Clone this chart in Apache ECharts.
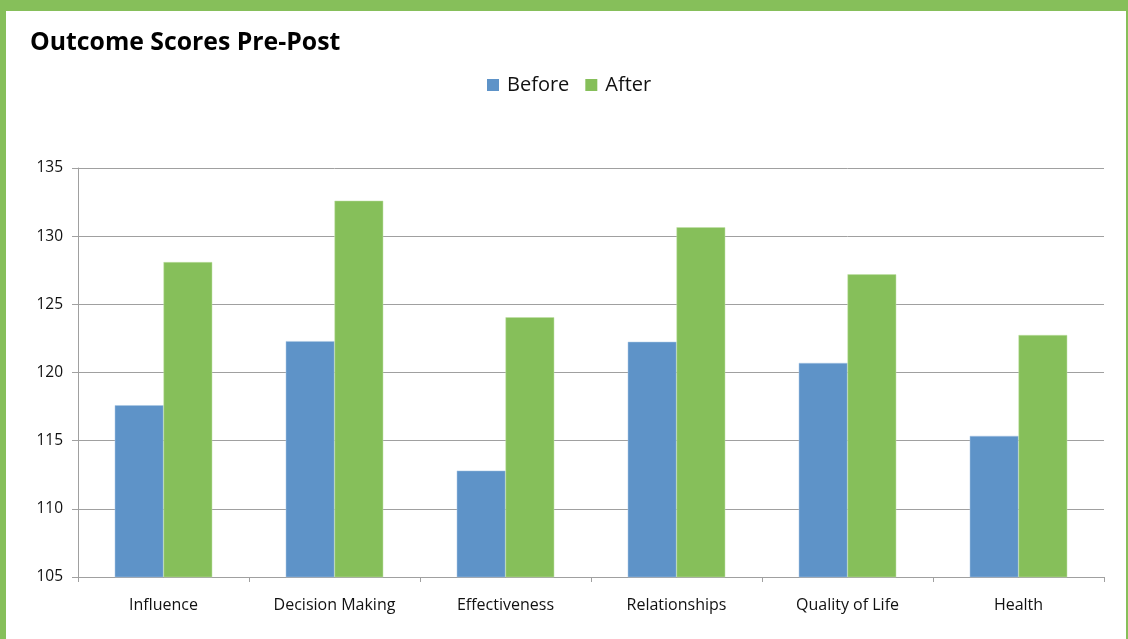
<!DOCTYPE html>
<html>
<head>
<meta charset="utf-8">
<script src="https://cdn.jsdelivr.net/npm/echarts@6/dist/echarts.min.js"></script>
<style>
html,body{margin:0;padding:0;background:#fff;}
#chart{width:1128px;height:639px;}
</style>
</head>
<body>
<div id="chart"></div>
<script>
const categories = ["Influence", "Decision Making", "Effectiveness", "Relationships", "Quality of Life", "Health"];
const beforeValues = [117.6, 122.3, 112.8, 122.25, 120.7, 115.35];
const afterValues = [128.1, 132.6, 124.05, 130.65, 127.2, 122.75];
const seriesNames = ["Before", "After"];
const yTicks = { min: 105, max: 135, interval: 5 };

const FONT = "'Open Sans', 'Noto Sans', sans-serif";
const chart = echarts.init(document.getElementById('chart'), null, { renderer: 'canvas' });
chart.setOption({
  backgroundColor: '#ffffff',
  animation: false,
  textStyle: { fontFamily: FONT },
  graphic: [
    { type: 'rect', shape: { x: 0, y: 0, width: 1128, height: 11 }, style: { fill: '#86BF5A' } },
    { type: 'rect', shape: { x: 0, y: 0, width: 6, height: 639 }, style: { fill: '#86BF5A' } },
    { type: 'rect', shape: { x: 1126, y: 0, width: 2, height: 639 }, style: { fill: '#86BF5A' } }
  ],
  title: {
    text: 'Outcome Scores Pre-Post',
    left: 25, top: 25,
    textStyle: { fontFamily: FONT, fontWeight: 'bold', fontSize: 24.8, color: '#000' }
  },
  legend: {
    data: seriesNames,
    top: 70, left: 482,
    itemWidth: 12, itemHeight: 12, itemGap: 16,
    icon: 'rect',
    itemStyle: { borderWidth: 0 },
    textStyle: { fontFamily: FONT, fontSize: 20, color: '#111', padding: [0, 0, 0, 3] }
  },
  grid: { left: 78, right: 24, top: 168, bottom: 62, containLabel: false },
  xAxis: {
    type: 'category',
    data: categories,
    axisLine: { lineStyle: { color: '#a0a0a0', width: 1 } },
    axisTick: { show: true, length: 5, alignWithLabel: false, lineStyle: { color: '#a0a0a0' } },
    axisLabel: { fontFamily: FONT, fontSize: 16, color: '#111', margin: 20 }
  },
  yAxis: {
    type: 'value',
    min: yTicks.min, max: yTicks.max, interval: yTicks.interval,
    axisLine: { show: true, lineStyle: { color: '#a0a0a0', width: 1 } },
    axisTick: { show: true, length: 6, lineStyle: { color: '#a0a0a0' } },
    axisLabel: { fontFamily: FONT, fontSize: 15.5, color: '#111', margin: 15 },
    splitLine: { show: true, lineStyle: { color: '#a0a0a0', width: 1 } }
  },
  series: [
    {
      name: seriesNames[0], type: 'bar', data: beforeValues,
      barGap: '0%', barCategoryGap: '43%',
      itemStyle: { color: '#5E93C8', borderColor: '#a9c6e4', borderWidth: 0.5 }
    },
    {
      name: seriesNames[1], type: 'bar', data: afterValues,
      barGap: '0%', barCategoryGap: '43%',
      itemStyle: { color: '#86BF5A', borderColor: '#c0e0a6', borderWidth: 0.5 }
    }
  ]
});
</script>
</body>
</html>
